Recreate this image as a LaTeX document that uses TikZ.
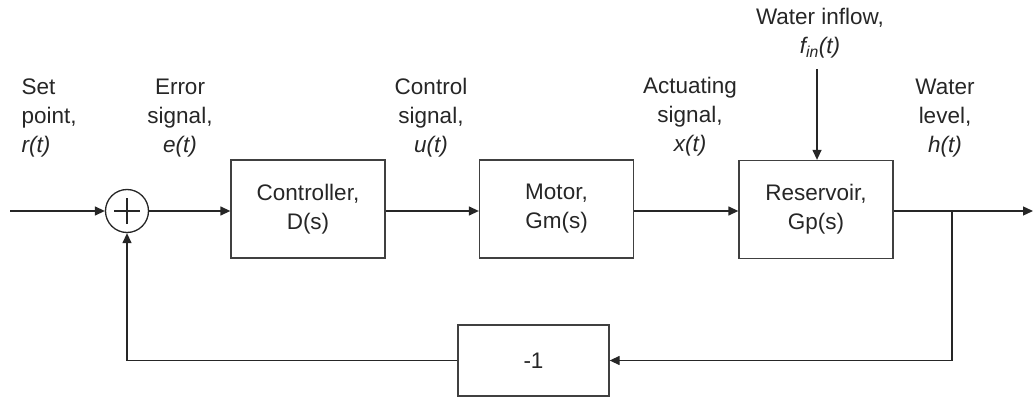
\documentclass[tikz,border=0pt]{standalone}
\usepackage{fontspec}
\setmainfont{Liberation Sans}
\usetikzlibrary{arrows.meta}
\begin{document}
\begin{tikzpicture}[x=1pt,y=-1pt,
  line width=1.3pt,
  every node/.style={font=\fontsize{22.5}{29}\selectfont, text=black!85},
  blockbox/.style={draw=black!75, line width=1.3pt, minimum width=154pt, minimum height=98pt, align=center, inner sep=0pt},
  lbl/.style={align=center, inner sep=0pt},
  conn/.style={draw=black!85, -{Triangle[length=10pt,width=9pt]}},
  wire/.style={draw=black!85}]
\useasboundingbox (0,0) rectangle (1033,398);
% blocks
\node[blockbox] (ctrl) at (308,209) {Controller,\\D(s)};
\node[blockbox] (motor) at (556.5,209) {Motor,\\Gm(s)};
\node[blockbox] (res) at (816,209.5) {Reservoir,\\Gp(s)};
\node[blockbox, minimum width=151pt, minimum height=71pt] (gain) at (533.5,360.5) {-1};
% summing junction
\node[draw=black!85, circle, minimum size=43pt, inner sep=0pt, line width=1.3pt] (sum) at (127,211) {};
\draw[wire] ([xshift=-13pt]sum.center) -- ([xshift=13pt]sum.center);
\draw[wire] ([yshift=-13pt]sum.center) -- ([yshift=13pt]sum.center);
% coordinates
\coordinate (in) at (10,211);
\coordinate (out) at (1033,211);
\coordinate (br) at (952,211);
\coordinate (fin) at (817,69);
% connectors
\draw[conn] (in) -- (sum.west);
\draw[conn] (sum.east) -- (ctrl.west |- sum.east);
\draw[conn] (ctrl.east |- sum.east) -- (motor.west |- sum.east);
\draw[conn] (motor.east |- sum.east) -- (res.west |- sum.east);
\draw[conn] (res.east |- sum.east) -- (out);
\draw[conn] (br) |- (gain.east);
\draw[conn] (gain.west) -| (sum.south);
\draw[conn] (fin) -- (fin |- res.north);
% labels
\node[lbl, align=left, anchor=west] (lr) at (21,118) {Set\\point,\\\textit{r(t)}};
\node[lbl] (le) at (180,118) {Error\\signal,\\\textit{e(t)}};
\node[lbl] (lu) at (431,118) {Control\\signal,\\\textit{u(t)}};
\node[lbl] (lx) at (690,117) {Actuating\\signal,\\\textit{x(t)}};
\node[lbl] (lf) at (820,33) {Water inflow,\\\textit{f\textsubscript{in}(t)}};
\node[lbl] (lh) at (945,118) {Water\\level,\\\textit{h(t)}};
\end{tikzpicture}
\end{document}
